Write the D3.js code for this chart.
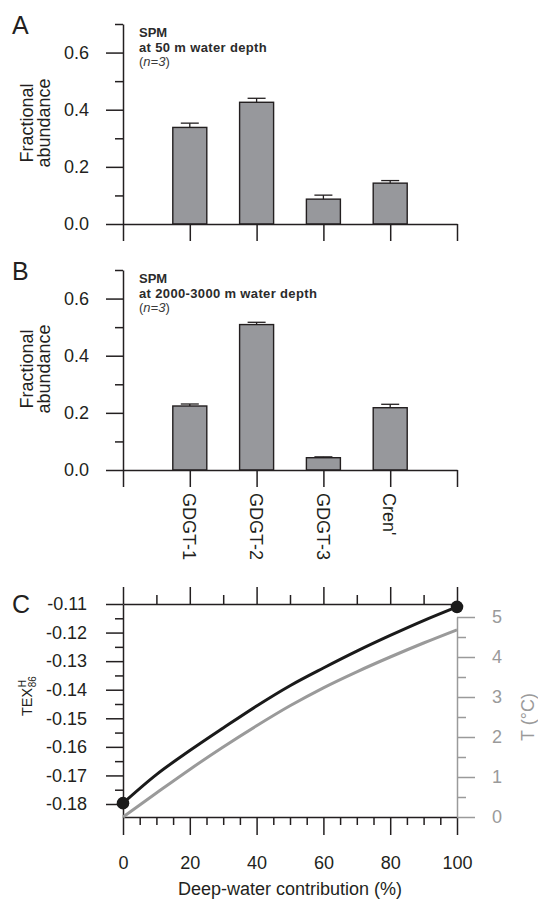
<!DOCTYPE html>
<html>
<head>
<meta charset="utf-8">
<script src="https://cdn.jsdelivr.net/npm/d3@7"></script>
<style>
  body { margin: 0; background: #fff; }
  svg { font-family: "Liberation Sans", Arial, sans-serif; }
</style>
</head>
<body>
<div id="chart"></div>
<script>
// bar panels (A = 50 m, B = 2000-3000 m)
const categories = ["GDGT-1", "GDGT-2", "GDGT-3", "Cren'"];
const shallowMean = [0.338, 0.426, 0.087, 0.143];
const shallowErr = [0.015, 0.014, 0.014, 0.009];
const deepMean = [0.224, 0.509, 0.043, 0.218];
const deepErr = [0.007, 0.008, 0.003, 0.012];
const abundanceTicks = [0, 0.2, 0.4, 0.6];
const abundanceMinor = [0.1, 0.3, 0.5, 0.7];

// panel C
const contribution = [0, 10, 20, 30, 40, 50, 60, 70, 80, 90, 100];
const texH = [-0.1797, -0.1697, -0.1613, -0.1534, -0.1457, -0.1386, -0.1324, -0.1265, -0.1210, -0.1158, -0.1110];
const tempC = [0, 0.60, 1.19, 1.75, 2.28, 2.78, 3.23, 3.63, 4.00, 4.35, 4.68];
const texTicks = [-0.18, -0.17, -0.16, -0.15, -0.14, -0.13, -0.12, -0.11];
const texMinor = [-0.175, -0.165, -0.155, -0.145, -0.135, -0.125, -0.115];
const contribTicks = [0, 20, 40, 60, 80, 100];
const tempTicks = [0, 1, 2, 3, 4, 5];
const tempMinor = [0.5, 1.5, 2.5, 3.5, 4.5];

const width = 538, height = 901;
const ink = "#231f20";
const grey = "#9a9a9a";

const svg = d3.select("#chart").append("svg")
    .attr("width", width)
    .attr("height", height);

function styleAxis(g, color) {
    g.selectAll("path, line").attr("stroke", color).attr("stroke-width", 1.5);
    g.selectAll("text").attr("fill", color).attr("font-size", 18);
}

function drawBarPanel(top, letter, depthText, means, errs, showLabels) {
    const y = d3.scaleLinear().domain([0, 0.7]).range([top + 200, top]);
    const x = d3.scaleLinear().domain([0, 5]).range([123, 457]);
    const g = svg.append("g");

    // bars
    g.selectAll("rect.bar")
        .data(means)
        .enter()
        .append("rect")
        .attr("class", "bar")
        .attr("x", (d, i) => x(i + 1) - 17)
        .attr("width", 34)
        .attr("y", d => y(d))
        .attr("height", d => y(0) - y(d))
        .attr("fill", "#97989c")
        .attr("stroke", ink)
        .attr("stroke-width", 1.4);

    // error bars, upper half only
    const err = g.selectAll("g.err")
        .data(means)
        .enter()
        .append("g")
        .attr("class", "err");
    err.append("line")
        .attr("x1", (d, i) => x(i + 1))
        .attr("x2", (d, i) => x(i + 1))
        .attr("y1", d => y(d))
        .attr("y2", (d, i) => y(d + errs[i]))
        .attr("stroke", ink).attr("stroke-width", 1.3);
    err.append("line")
        .attr("x1", (d, i) => x(i + 1) - 9)
        .attr("x2", (d, i) => x(i + 1) + 9)
        .attr("y1", (d, i) => y(d + errs[i]))
        .attr("y2", (d, i) => y(d + errs[i]))
        .attr("stroke", ink).attr("stroke-width", 1.3);

    // y axis: minor then major
    g.append("g")
        .attr("transform", "translate(123,0)")
        .call(d3.axisLeft(y).tickValues(abundanceMinor).tickSize(8).tickFormat(""))
        .call(a => a.select(".domain").remove())
        .call(a => styleAxis(a, ink));
    g.append("g")
        .attr("transform", "translate(123,0)")
        .call(d3.axisLeft(y).tickValues(abundanceTicks).tickSize(17).tickSizeOuter(0)
            .tickPadding(17).tickFormat(d3.format(".1f")))
        .call(a => styleAxis(a, ink));

    // x axis with ticks at category positions
    const xAxis = g.append("g")
        .attr("transform", `translate(0,${y(0)})`)
        .call(d3.axisBottom(x).tickValues([0, 1, 2, 3, 4, 5]).tickSize(17).tickSizeOuter(0)
            .tickFormat(d => (showLabels && d >= 1 && d <= 4) ? categories[d - 1] : ""))
        .call(a => styleAxis(a, ink));
    if (showLabels) {
        xAxis.selectAll("text")
            .attr("x", 0)
            .attr("y", 0)
            .attr("dy", "0.35em")
            .attr("transform", "translate(-1,23) rotate(90)")
            .style("text-anchor", "start");
    }

    // axis title
    const mid = (y(0) + y(0.7)) / 2 - 1;
    const title = g.append("text")
        .attr("transform", `translate(33,${mid}) rotate(-90)`)
        .attr("text-anchor", "middle")
        .attr("font-size", 18)
        .attr("fill", ink);
    title.append("tspan").attr("x", 0).attr("y", 0).text("Fractional");
    title.append("tspan").attr("x", 0).attr("y", 17).text("abundance");

    // annotation, one text per line
    g.append("text")
        .attr("x", 139).attr("y", top + 13)
        .attr("font-size", 13).attr("font-weight", "bold").attr("fill", "#2b2b2b")
        .text("SPM");
    g.append("text")
        .attr("x", 139).attr("y", top + 27.5)
        .attr("font-size", 13).attr("font-weight", "bold").attr("fill", "#2b2b2b")
        .attr("letter-spacing", 0.35)
        .text(depthText);
    const n = g.append("text")
        .attr("x", 139).attr("y", top + 42)
        .attr("font-size", 13).attr("fill", "#3a3a3a");
    n.append("tspan").text("(");
    n.append("tspan").attr("font-style", "italic").text("n=3");
    n.append("tspan").text(")");

    g.append("text")
        .attr("x", 12)
        .attr("y", top + 10)
        .attr("font-size", 25)
        .attr("fill", ink)
        .text(letter);
}

drawBarPanel(24, "A", "at 50 m water depth", shallowMean, shallowErr, false);
drawBarPanel(270, "B", "at 2000-3000 m water depth", deepMean, deepErr, true);

// Panel C: mixing curve
const xC = d3.scaleLinear().domain([0, 100]).range([123, 457]);
const yTex = d3.scaleLinear().domain([-0.18, -0.11]).range([804, 604]);
const yT = d3.scaleLinear().domain([0, 5]).range([817, 617]);
const yTexAxis = yTex.copy().domain([yTex.invert(817), -0.11]).range([817, 604]);

const gc = svg.append("g");

// bottom axis
gc.append("g")
    .attr("transform", "translate(0,817)")
    .call(d3.axisBottom(xC).tickValues(d3.range(5, 100, 5).filter(v => v % 20 !== 0)).tickSize(8).tickFormat(""))
    .call(a => a.select(".domain").remove())
    .call(a => styleAxis(a, ink));
gc.append("g")
    .attr("transform", "translate(0,817)")
    .call(d3.axisBottom(xC).tickValues(contribTicks).tickSize(18).tickSizeOuter(0).tickPadding(21))
    .call(a => styleAxis(a, ink));

// top axis
gc.append("g")
    .attr("transform", "translate(0,604)")
    .call(d3.axisTop(xC).tickValues([10, 30, 50, 70, 90]).tickSize(9).tickFormat(""))
    .call(a => a.select(".domain").remove())
    .call(a => styleAxis(a, ink));
gc.append("g")
    .attr("transform", "translate(0,604)")
    .call(d3.axisTop(xC).tickValues(contribTicks).tickSize(17).tickSizeOuter(0).tickFormat(""))
    .call(a => styleAxis(a, ink));

// left TEX axis
gc.append("g")
    .attr("transform", "translate(123,0)")
    .call(d3.axisLeft(yTex).tickValues(texMinor).tickSize(8).tickFormat(""))
    .call(a => a.select(".domain").remove())
    .call(a => styleAxis(a, ink));
gc.append("g")
    .attr("transform", "translate(123,0)")
    .call(d3.axisLeft(yTexAxis).tickValues(texTicks).tickSize(17).tickSizeOuter(0)
        .tickPadding(19).tickFormat(d3.format(".2f")))
    .call(a => styleAxis(a, ink))
    .call(a => a.selectAll("text").text(d => d3.format(".2f")(d).replace("\u2212", "-")));

// right temperature axis (grey)
gc.append("g")
    .attr("transform", "translate(457,0)")
    .call(d3.axisRight(yT).tickValues(tempMinor).tickSize(9).tickFormat(""))
    .call(a => a.select(".domain").remove())
    .call(a => styleAxis(a, grey));
gc.append("g")
    .attr("transform", "translate(457,0)")
    .call(d3.axisRight(yT).tickValues(tempTicks).tickSize(18).tickSizeOuter(0)
        .tickPadding(17).tickFormat(d3.format("d")))
    .call(a => styleAxis(a, grey));

// curves
const tempLine = d3.line()
    .x((d, i) => xC(contribution[i]))
    .y(d => yT(d))
    .curve(d3.curveMonotoneX);
gc.append("path")
    .datum(tempC)
    .attr("d", tempLine)
    .attr("fill", "none")
    .attr("stroke", grey)
    .attr("stroke-width", 3);

const texLine = d3.line()
    .x((d, i) => xC(contribution[i]))
    .y(d => yTex(d))
    .curve(d3.curveMonotoneX);
gc.append("path")
    .datum(texH)
    .attr("d", texLine)
    .attr("fill", "none")
    .attr("stroke", "#1a1a1a")
    .attr("stroke-width", 3);

// end members
gc.selectAll("circle.end")
    .data([0, texH.length - 1])
    .enter()
    .append("circle")
    .attr("class", "end")
    .attr("cx", i => xC(contribution[i]))
    .attr("cy", i => yTex(texH[i]))
    .attr("r", 6.3)
    .attr("fill", "#1a1a1a");

// titles
gc.append("text")
    .attr("x", (xC(0) + xC(100)) / 2)
    .attr("y", 895)
    .attr("text-anchor", "middle")
    .attr("font-size", 18)
    .attr("fill", ink)
    .text("Deep-water contribution (%)");

gc.append("text")
    .attr("transform", `translate(534,${(yT(0) + yT(5)) / 2}) rotate(-90)`)
    .attr("text-anchor", "middle")
    .attr("font-size", 18)
    .attr("fill", grey)
    .text("T (\u00b0C)");

const texLabel = gc.append("g")
    .attr("transform", "translate(32,716) rotate(-90)");
const texMain = texLabel.append("text")
    .attr("x", 0).attr("y", 0)
    .attr("font-size", 14.5)
    .attr("fill", ink)
    .text("TEX");
const texLen = texMain.node().getComputedTextLength();
texLabel.append("text")
    .attr("x", texLen + 0.5).attr("y", -6.5)
    .attr("font-size", 10)
    .attr("fill", ink)
    .text("H");
texLabel.append("text")
    .attr("x", texLen + 0.5).attr("y", 4)
    .attr("font-size", 10)
    .attr("fill", ink)
    .text("86");

gc.append("text")
    .attr("x", 12)
    .attr("y", 613)
    .attr("font-size", 25)
    .attr("fill", ink)
    .text("C");
</script>
</body>
</html>
